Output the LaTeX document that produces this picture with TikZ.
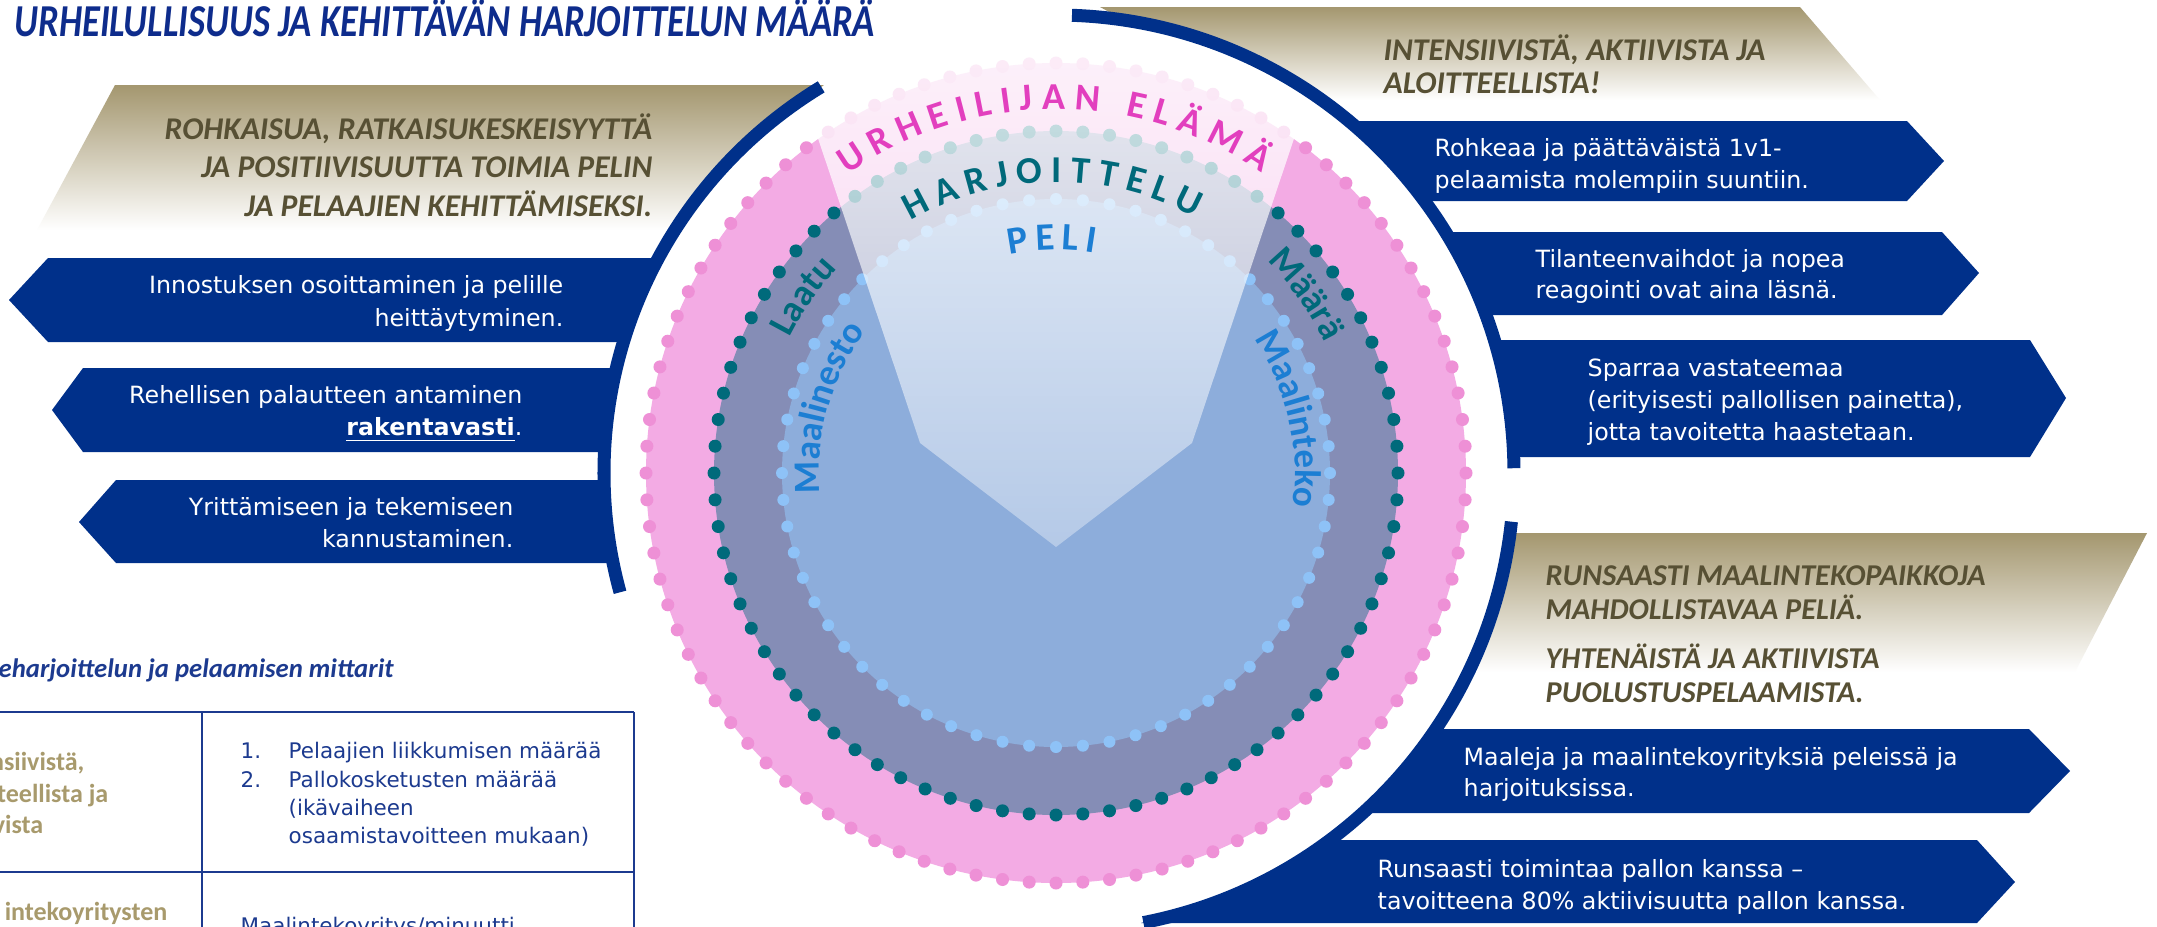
\documentclass[tikz,border=0pt]{standalone}
\usepackage{fontspec}
\setmainfont{DejaVu Sans}
\newfontfamily\carl{Carlito}
\newfontfamily\carlcond{Carlito}[FakeStretch=0.80]
\usetikzlibrary{fadings,decorations.text}
\definecolor{bannavy}{HTML}{00308A}
\definecolor{titleblue}{HTML}{0E2C8C}
\definecolor{goldc}{HTML}{A4976F}
\definecolor{olivec}{HTML}{575034}
\definecolor{tblue}{HTML}{1C3A8F}
\definecolor{cellgoldc}{HTML}{A89A6C}
\definecolor{pinkfill}{HTML}{F3ABE4}
\definecolor{pinkdot}{HTML}{EE90D6}
\definecolor{slatec}{HTML}{858DB6}
\definecolor{tealdot}{HTML}{006A7B}
\definecolor{innerblue}{HTML}{8DADDB}
\definecolor{lbdot}{HTML}{8EC2F7}
\definecolor{magentatext}{HTML}{E23FBE}
\definecolor{tealtext}{HTML}{00697A}
\definecolor{bluetext}{HTML}{1C7ED3}
\tikzfading[name=wedgefade, top color=transparent!15, bottom color=transparent!65]
\tikzset{
 banshape/.style={fill=bannavy},
 goldband/.style={top color=goldc, bottom color=white},
 arcband/.style={draw=bannavy, line width=0.13cm},
 wtext/.style={text=white, inner sep=0pt, font=\fontsize{6.75}{8}\selectfont},
 wtextL/.style={wtext, anchor=base east},
 wtextR/.style={wtext, anchor=base west},
 goldtxt/.style={text=olivec, inner sep=0pt, font=\carl\bfseries\itshape\fontsize{9}{10}\selectfont},
 tabline/.style={draw=tblue, line width=0.027cm},
 celltxt/.style={text=tblue, inner sep=0pt, anchor=base west, font=\fontsize{6.1}{7}\selectfont},
 cellgold/.style={text=cellgoldc, inner sep=0pt, anchor=base east, font=\carl\bfseries\fontsize{7.4}{9}\selectfont},
}
\begin{document}
\begin{tikzpicture}[x=0.01cm, y=-0.01cm]
\useasboundingbox (0,0) rectangle (2157,926);
\clip (0,0) rectangle (2157,926);
\fill[white] (0,0) rectangle (2157,926);

% gold bands
\path[goldband] (115,85) -- (824,85) -- (762,130) -- (712,180) -- (675,230) -- (37,230) -- cycle;
\path[goldband] (1100,7) -- (1800,7) -- (1880,100) -- (1322,100) -- (1232,50) -- (1124,20) -- cycle;
\path[goldband] (1510,533) -- (2147,533) -- (2075,672) -- (1468,672) -- (1496,600) -- cycle;

% left banners
\fill[banshape] (658,258) -- (48,258) -- (9,300) -- (48,342) -- (623,342) -- (638,300) -- cycle;
\fill[banshape] (616,368) -- (83,368) -- (52,410) -- (83,452) -- (604,452) -- (608,410) -- cycle;
\fill[banshape] (604,480) -- (116,480) -- (79,522) -- (116,563) -- (613,563) -- (606,522) -- cycle;
% right banners
\fill[banshape] (1349,121) -- (1907,121) -- (1944,161) -- (1907,201) -- (1424,201) -- (1390,160) -- cycle;
\fill[banshape] (1445,232) -- (1942,232) -- (1979,273) -- (1942,315) -- (1486,315) -- (1468,273) -- cycle;
\fill[banshape] (1494,340) -- (2030,340) -- (2066,398) -- (2030,457) -- (1513,457) -- (1508,398) -- cycle;
\fill[banshape] (1436,729) -- (2029,729) -- (2070,771) -- (2029,813) -- (1363,813) -- (1404,771) -- cycle;
\fill[banshape] (1330,840) -- (1977,840) -- (2015,882) -- (1977,923) -- (1141,923) -- (1222,900) -- (1284,870) -- cycle;

% circle diagram
\begin{scope}[shift={(1056,473)}, y=0.01cm]
 \fill[pinkfill] (0,0) circle[radius=410];
 \fill[slatec] (0,0) circle[radius=342];
 \fill[innerblue] (0,0) circle[radius=274];
 \foreach \i in {1,...,96} \fill[pinkdot] (\i*3.75:410) circle[radius=6.5];
 \foreach \i in {1,...,80} \fill[tealdot] (\i*4.5:342) circle[radius=6.5];
 \foreach \i in {1,...,64} \fill[lbdot] (\i*5.625:274) circle[radius=6];
 \begin{scope}
  \clip (0,0) circle[radius=417];
  \fill[white, path fading=wedgefade] (-136,30) -- (-271,433) -- (271,433) -- (136,30) -- (0,-74) -- cycle;
 \end{scope}
 \path[decorate, decoration={text along path, text align={fit to path}, text color=magentatext,
   text={|\carl\bfseries\fontsize{10.8}{10.8}\selectfont|URHEILIJAN ELÄMÄ}}]
   (125:364) arc[start angle=125, end angle=55.5, radius=364];
 \path[decorate, decoration={text along path, text align={fit to path}, text color=tealtext,
   text={|\carl\bfseries\fontsize{10.8}{10.8}\selectfont|HARJOITTELU}}]
   (120:291) arc[start angle=120, end angle=61.5, radius=291];
 \path[decorate, decoration={text along path, text align={fit to path}, text color=bluetext,
   text={|\carl\bfseries\fontsize{11}{11}\selectfont|PELI}}]
   (102:223) arc[start angle=102, end angle=80, radius=223];
 \path[decorate, decoration={text along path, text align=center, text color=tealtext,
   text={|\carl\bfseries\fontsize{10.5}{10.5}\selectfont|Laatu}}]
   (165:299) arc[start angle=165, end angle=125, radius=299];
 \path[decorate, decoration={text along path, text align=center, text color=tealtext,
   text={|\carl\bfseries\fontsize{10.5}{10.5}\selectfont|Määrä}}]
   (55.5:299) arc[start angle=55.5, end angle=15.5, radius=299];
 \path[decorate, decoration={text along path, text align=center, text color=bluetext,
   text={|\carl\bfseries\fontsize{10.5}{10.5}\selectfont|Maalinesto}}]
   (189:237) arc[start angle=189, end angle=139, radius=237];
 \path[decorate, decoration={text along path, text align=center, text color=bluetext,
   text={|\carl\bfseries\fontsize{10.5}{10.5}\selectfont|Maalinteko}}]
   (38:239) arc[start angle=38, end angle=-12, radius=239];
 % blue arcs
 \draw[arcband] (121.3:452) arc[start angle=121.3, end angle=195.3, radius=452];
 \draw[arcband] (88:458) arc[start angle=88, end angle=0.6, radius=458];
 \draw[arcband] (-6.1:458) arc[start angle=-6.1, end angle=-79, radius=458];
\end{scope}

% title
\node[anchor=base west, inner sep=0pt, text=titleblue, font=\carlcond\bfseries\itshape\fontsize{13}{15}\selectfont] (title) at (14,36) {URHEILULLISUUS JA KEHITTÄVÄN HARJOITTELUN MÄÄRÄ};

% gold texts
\node[goldtxt, anchor=base east] (g1) at (653,139) {ROHKAISUA, RATKAISUKESKEISYYTTÄ};
\node[goldtxt, anchor=base east] (g2) at (653,177.5) {JA POSITIIVISUUTTA TOIMIA PELIN};
\node[goldtxt, anchor=base east] (g3) at (653,216) {JA PELAAJIEN KEHITTÄMISEKSI.};
\node[goldtxt, anchor=base west] (g4) at (1383,60) {INTENSIIVISTÄ, AKTIIVISTA JA};
\node[goldtxt, anchor=base west] (g5) at (1383,93) {ALOITTEELLISTA!};
\node[goldtxt, anchor=base west, font=\carl\bfseries\itshape\fontsize{8.6}{10}\selectfont] (g6) at (1545,585) {RUNSAASTI MAALINTEKOPAIKKOJA};
\node[goldtxt, anchor=base west, font=\carl\bfseries\itshape\fontsize{8.6}{10}\selectfont] (g7) at (1545,619) {MAHDOLLISTAVAA PELIÄ.};
\node[goldtxt, anchor=base west, font=\carl\bfseries\itshape\fontsize{8.6}{10}\selectfont] (g8) at (1545,668) {YHTENÄISTÄ JA AKTIIVISTA};
\node[goldtxt, anchor=base west, font=\carl\bfseries\itshape\fontsize{8.6}{10}\selectfont] (g9) at (1545,702) {PUOLUSTUSPELAAMISTA.};

% banner texts
\node[wtextL] (b1a) at (564,293) {Innostuksen osoittaminen ja pelille};
\node[wtextL] (b1b) at (564,326) {heittäytyminen.};
\node[wtextL] (b2a) at (523,403) {Rehellisen palautteen antaminen};
\node[wtextL] (b2b) at (523,435) {\underline{\textbf{rakentavasti}}.};
\node[wtextL] (b3a) at (514,515) {Yrittämiseen ja tekemiseen};
\node[wtextL] (b3b) at (514,547) {kannustaminen.};
\node[wtextR] (r1a) at (1434,156) {Rohkeaa ja päättäväistä 1v1-};
\node[wtextR] (r1b) at (1434,188) {pelaamista molempiin suuntiin.};
\node[wtextR] (r2a) at (1535,267) {Tilanteenvaihdot ja nopea};
\node[wtextR] (r2b) at (1535,298) {reagointi ovat aina läsnä.};
\node[wtextR] (r3a) at (1587,376) {Sparraa vastateemaa};
\node[wtextR] (r3b) at (1587,408) {(erityisesti pallollisen painetta),};
\node[wtextR] (r3c) at (1587,440) {jotta tavoitetta haastetaan.};
\node[wtextR] (l1a) at (1463,765) {Maaleja ja maalintekoyrityksiä peleissä ja};
\node[wtextR] (l1b) at (1463,796) {harjoituksissa.};
\node[wtextR] (l2a) at (1377,877) {Runsaasti toimintaa pallon kanssa –};
\node[wtextR] (l2b) at (1377,909) {tavoitteena 80\% aktiivisuutta pallon kanssa.};

% table
\node[anchor=base west, inner sep=0pt, text=tblue, font=\carl\bfseries\itshape\fontsize{7.6}{9}\selectfont] (thead) at (-2,677) {eharjoittelun ja pelaamisen mittarit};
\draw[tabline] (-5,712) -- (634,712);
\draw[tabline] (-5,872) -- (634,872);
\draw[tabline] (202,712) -- (202,930);
\draw[tabline] (634,712) -- (634,930);
\node[cellgold] (c1) at (85,770) {nsiivistä,};
\node[cellgold] (c2) at (109,802) {teellista ja};
\node[cellgold] (c3) at (44,833) {vista};
\node[cellgold] (c4) at (168,920) {intekoyritysten};
\node[celltxt] (n1) at (240,758) {1.};
\node[celltxt] (m1) at (288,758) {Pelaajien liikkumisen määrää};
\node[celltxt] (n2) at (240,787) {2.};
\node[celltxt] (m2) at (288,787) {Pallokosketusten määrää};
\node[celltxt] (m3) at (288,815) {(ikävaiheen};
\node[celltxt] (m4) at (288,843) {osaamistavoitteen mukaan)};
\node[celltxt] (m5) at (240,933) {Maalintekoyritys/minuutti};
\end{tikzpicture}
\end{document}
